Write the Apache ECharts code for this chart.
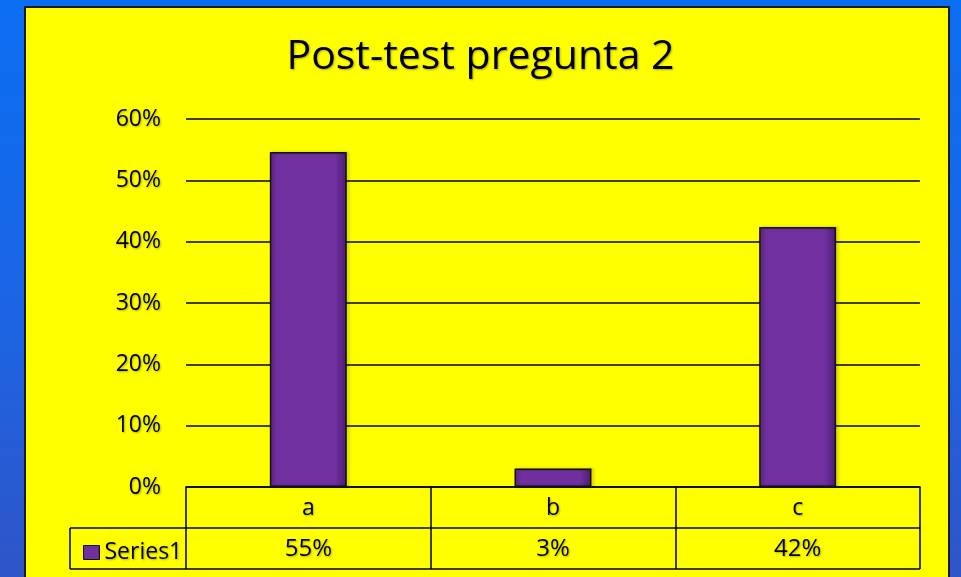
<!DOCTYPE html>
<html>
<head>
<meta charset="utf-8">
<script src="https://cdn.jsdelivr.net/npm/echarts@6/dist/echarts.min.js"></script>
<style>
html,body{margin:0;padding:0;width:961px;height:577px;overflow:hidden;
  background:linear-gradient(180deg,#0b6ef2 0%,#1a66e6 50%,#2f55c8 100%);}
#panel{position:absolute;left:24px;top:6px;width:926px;height:600px;background:#ffff00;border:2px solid #1a1a1a;box-sizing:border-box;}
#chart{position:absolute;left:0;top:0;width:961px;height:577px;}
</style>
</head>
<body>
<div id="panel"></div>
<div id="chart"></div>
<script>
const categories = ['a', 'b', 'c'];
const seriesName = 'Series1';
const values = [0.546, 0.03, 0.424];
const yTicks = [0, 0.1, 0.2, 0.3, 0.4, 0.5, 0.6];

const FONT = 'Open Sans';
const shadow = {textShadowColor:'rgba(0,0,0,0.3)', textShadowBlur:2, textShadowOffsetX:1, textShadowOffsetY:1};
const pct = v => Math.round(v * 100) + '%';

const chart = echarts.init(document.getElementById('chart'), null, {renderer:'canvas'});
const G = {left:186, right:41, top:119, bottom:90};

const option = {
  backgroundColor:'transparent',
  animation:false,
  title:{
    text:'Post-test pregunta 2', left:'center', top:32,
    textStyle:Object.assign({fontFamily:FONT, fontSize:41, fontWeight:'normal', color:'#000'}, shadow)
  },
  legend:{
    show:true, left:78, top:536, itemWidth:16, itemHeight:14, icon:'rect', itemGap:4,
    data:[seriesName],
    itemStyle:{borderColor:'#111', borderWidth:1},
    textStyle:Object.assign({fontFamily:FONT, fontSize:23, color:'#000', padding:[0,0,0,0]}, shadow)
  },
  grid:G,
  xAxis:{
    type:'category', data:categories,
    axisLine:{show:true, lineStyle:{color:'#000', width:1.5}},
    axisTick:{show:true, length:82, lineStyle:{color:'#000', width:1.5}},
    axisLabel:{
      margin:6,
      formatter:(v, i) => '{c|' + v + '}\n{v|' + pct(values[i]) + '}',
      rich:{
        c:Object.assign({fontFamily:FONT, fontSize:23, color:'#000', lineHeight:30, height:30}, shadow),
        v:Object.assign({fontFamily:FONT, fontSize:24, color:'#000', lineHeight:52, height:52}, shadow)
      }
    }
  },
  yAxis:{
    type:'value', min:0, max:0.6, interval:0.1,
    axisLine:{show:false}, axisTick:{show:false},
    axisLabel:Object.assign({margin:25, fontFamily:FONT, fontSize:23, color:'#000',
      formatter:v => pct(v)}, shadow),
    splitLine:{show:true, lineStyle:{color:'#000', width:1.5}}
  },
  series:[{
    name:seriesName, type:'bar', data:values, barWidth:77,
    itemStyle:{
      color:new echarts.graphic.LinearGradient(0,0,1,0,[
        {offset:0, color:'#6a2c9a'},
        {offset:0.1, color:'#7030a0'},
        {offset:0.85, color:'#7030a0'},
        {offset:1, color:'#4a1d70'}
      ]),
      borderColor:'#111', borderWidth:1.5,
      shadowColor:'rgba(0,0,0,0.3)', shadowBlur:3, shadowOffsetX:2, shadowOffsetY:0
    }
  }]
};
chart.setOption(option);

// data-table frame lines positioned from the axis scale
const x0 = chart.convertToPixel({xAxisIndex:0}, 0);
const bandW = chart.convertToPixel({xAxisIndex:0}, 1) - x0;
const leftEdge = x0 - bandW / 2;
const rightEdge = leftEdge + bandW * categories.length;
const y0 = chart.convertToPixel({yAxisIndex:0}, 0);
const rowH = 41;
const legendLeft = 70;
const ls = {stroke:'#000', lineWidth:1.5};
chart.setOption({
  graphic:[
    {type:'line', shape:{x1:legendLeft, y1:y0+rowH, x2:rightEdge, y2:y0+rowH}, style:ls},
    {type:'line', shape:{x1:legendLeft, y1:y0+2*rowH, x2:rightEdge, y2:y0+2*rowH}, style:ls},
    {type:'line', shape:{x1:legendLeft, y1:y0+rowH, x2:legendLeft, y2:y0+2*rowH}, style:ls}
  ]
});
</script>
</body>
</html>
